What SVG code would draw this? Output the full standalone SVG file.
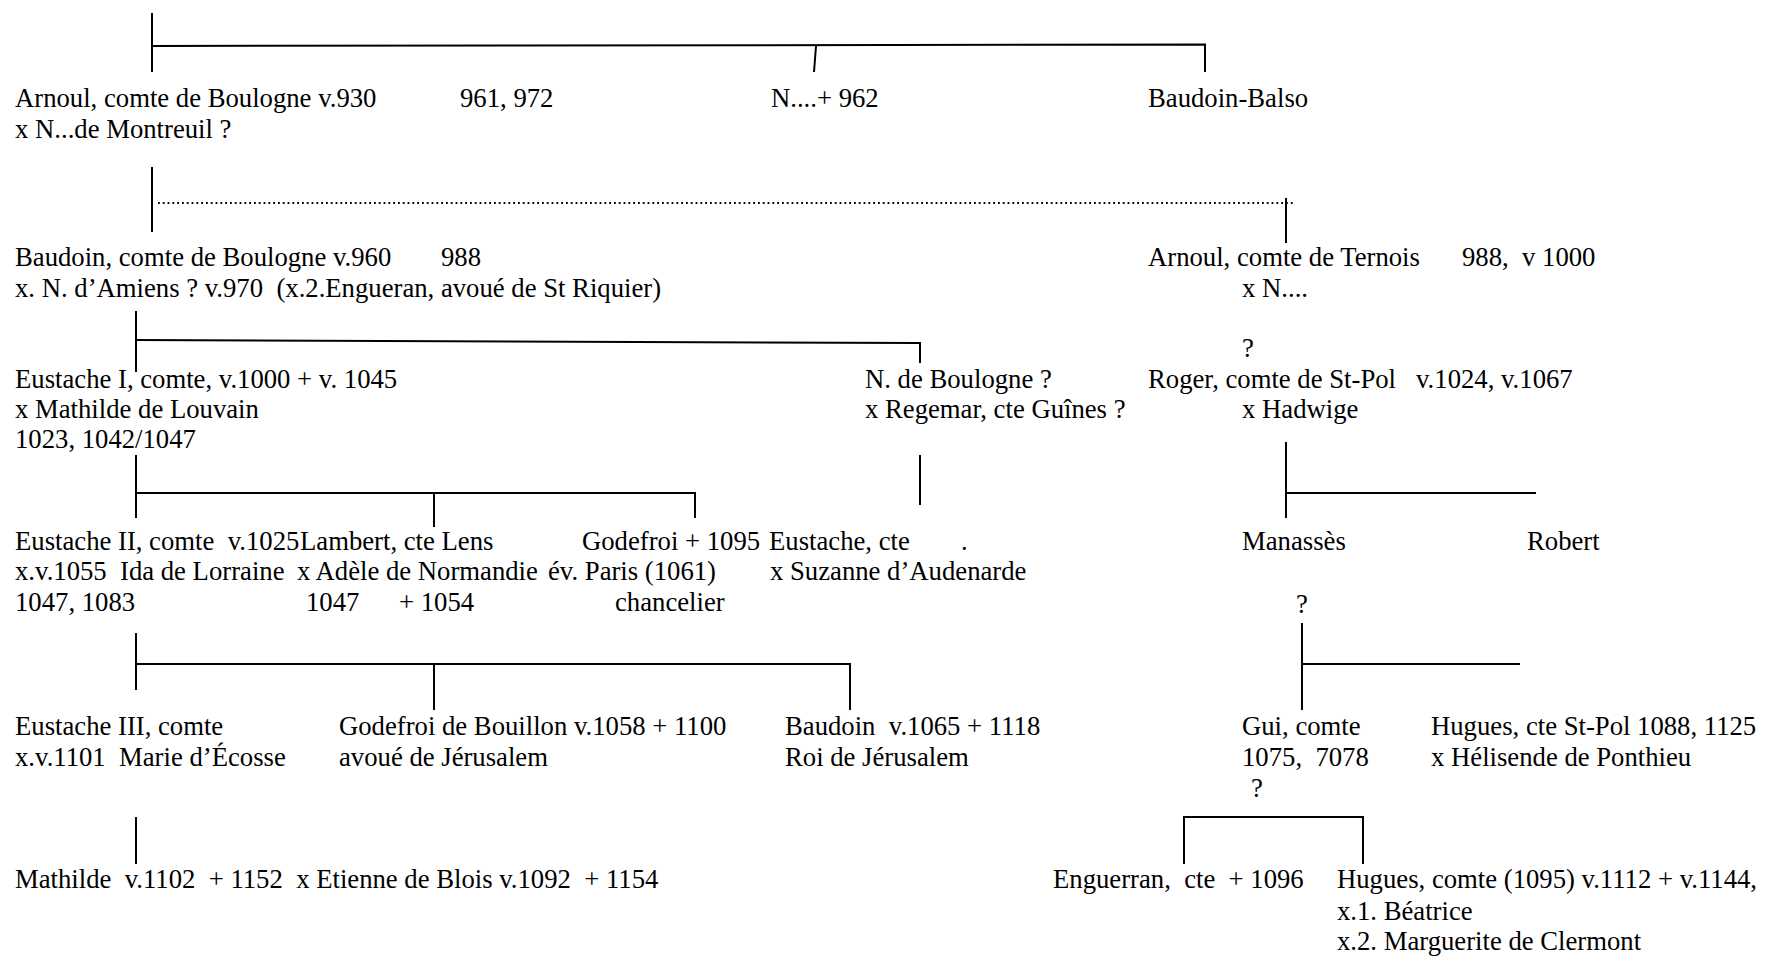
<svg xmlns="http://www.w3.org/2000/svg" width="1767" height="956" viewBox="0 0 1767 956">
<style>
text{font-family:"Liberation Serif","Times New Roman",serif;font-size:26.7px;fill:#000;white-space:pre}
.ln{fill:none;stroke:#000;stroke-width:2}
.dot{fill:none;stroke:#000;stroke-width:1.8;stroke-dasharray:1.8 3}
</style>
<rect width="1767" height="956" fill="#fff"/>
<g id="connectors">
<path class="ln" d="M152,13V72"/>
<polyline class="ln" points="152,46 1205,44.5 1205,72"/>
<path class="ln" d="M816,46L814,72"/>
<path class="ln" d="M152,167V232"/>
<path class="dot" d="M158,203H1293"/>
<path class="ln" d="M1286,198V243"/>
<path class="ln" d="M136,311V372"/>
<polyline class="ln" points="136,340 920,343 920,363"/>
<path class="ln" d="M920,455V505"/>
<path class="ln" d="M1286,442V518M1286,493H1536"/>
<path class="ln" d="M136,455V518M136,493H695V518M434,493V527"/>
<path class="ln" d="M136,633V690M136,664H850V710M434,664V710"/>
<path class="ln" d="M1302,623V710M1302,664H1520"/>
<path class="ln" d="M136,817V864"/>
<polyline class="ln" points="1184,864 1184,817 1363,817 1363,864"/>
</g>
<g id="n-arnoul-boulogne">
<text x="15" y="107">Arnoul, comte de Boulogne v.930</text>
<text x="460" y="107">961, 972</text>
<text x="15" y="138">x N...de Montreuil ?</text>
</g>
<g id="n-n962"><text x="771" y="107">N....+ 962</text></g>
<g id="n-baudoin-balso"><text x="1148" y="107">Baudoin-Balso</text></g>
<g id="n-baudoin-boulogne">
<text x="15" y="266">Baudoin, comte de Boulogne v.960</text>
<text x="441" y="266">988</text>
<text x="15" y="297">x. N. d’Amiens ? v.970  (x.2.Engueran, avoué de St Riquier)</text>
</g>
<g id="n-arnoul-ternois">
<text x="1148" y="266">Arnoul, comte de Ternois</text>
<text x="1462" y="266">988,  v 1000</text>
<text x="1242" y="297">x N....</text>
</g>
<g id="n-eustache1">
<text x="15" y="388">Eustache I, comte, v.1000 + v. 1045</text>
<text x="15" y="418">x Mathilde de Louvain</text>
<text x="15" y="448">1023, 1042/1047</text>
</g>
<g id="n-n-boulogne">
<text x="865" y="388">N. de Boulogne ?</text>
<text x="865" y="418">x Regemar, cte Guînes ?</text>
</g>
<g id="n-roger">
<text x="1242" y="357">?</text>
<text x="1148" y="388">Roger, comte de St-Pol</text>
<text x="1416" y="388">v.1024, v.1067</text>
<text x="1242" y="418">x Hadwige</text>
</g>
<g id="n-eustache2">
<text x="15" y="550">Eustache II, comte  v.1025</text>
<text x="15" y="580">x.v.1055  Ida de Lorraine</text>
<text x="15" y="611">1047, 1083</text>
</g>
<g id="n-lambert">
<text x="300" y="550">Lambert, cte Lens</text>
<text x="297" y="580">x Adèle de Normandie</text>
<text x="306" y="611">1047</text>
<text x="399" y="611">+ 1054</text>
</g>
<g id="n-godefroi">
<text x="582" y="550">Godefroi + 1095</text>
<text x="548" y="580">év. Paris (1061)</text>
<text x="615" y="611">chancelier</text>
</g>
<g id="n-eustache-cte">
<text x="769" y="550">Eustache, cte</text>
<text x="961" y="550">.</text>
<text x="770" y="580">x Suzanne d’Audenarde</text>
</g>
<g id="n-manasses"><text x="1242" y="550">Manassès</text></g>
<g id="n-robert"><text x="1527" y="550">Robert</text></g>
<g id="n-eustache3">
<text x="15" y="735">Eustache III, comte</text>
<text x="15" y="766">x.v.1101  Marie d’Écosse</text>
</g>
<g id="n-godefroi-bouillon">
<text x="339" y="735">Godefroi de Bouillon v.1058 + 1100</text>
<text x="339" y="766">avoué de Jérusalem</text>
</g>
<g id="n-baudoin-jerusalem">
<text x="785" y="735">Baudoin  v.1065 + 1118</text>
<text x="785" y="766">Roi de Jérusalem</text>
</g>
<g id="n-gui">
<text x="1296" y="613">?</text>
<text x="1242" y="735">Gui, comte</text>
<text x="1242" y="766">1075,  7078</text>
<text x="1251" y="797">?</text>
</g>
<g id="n-hugues-stpol">
<text x="1431" y="735">Hugues, cte St-Pol 1088, 1125</text>
<text x="1431" y="766">x Hélisende de Ponthieu</text>
</g>
<g id="n-mathilde"><text x="15" y="888">Mathilde  v.1102  + 1152  x Etienne de Blois v.1092  + 1154</text></g>
<g id="n-enguerran"><text x="1053" y="888">Enguerran,  cte  + 1096</text></g>
<g id="n-hugues-comte">
<text x="1337" y="888">Hugues, comte (1095) v.1112 + v.1144,</text>
<text x="1337" y="920">x.1. Béatrice</text>
<text x="1337" y="950">x.2. Marguerite de Clermont</text>
</g>
</svg>
